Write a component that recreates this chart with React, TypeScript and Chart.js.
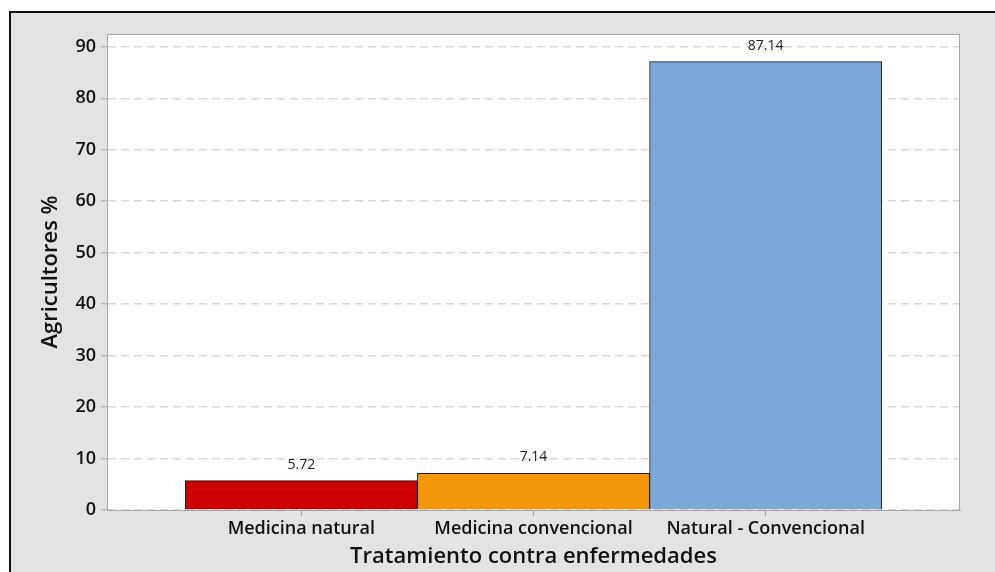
import React, { useEffect, useRef } from "react";
import { Chart, registerables } from "chart.js";

Chart.register(...registerables);

const categories = ["Medicina natural", "Medicina convencional", "Natural - Convencional"];
const values = [5.72, 7.14, 87.14];
const valueLabels = ["5.72", "7.14", "87.14"];
const barColors = ["#cc0000", "#f4960a", "#7ca7d8"];
const yTicks = [0, 10, 20, 30, 40, 50, 60, 70, 80, 90];
const xTitle = "Tratamiento contra enfermedades";
const yTitle = "Agricultores %";

const FONT = "'Open Sans', 'Noto Sans', sans-serif";

const bgPlugin = {
  id: "bgPlugin",
  beforeDraw(chart: any) {
    const { ctx, width, height, chartArea } = chart;
    ctx.save();
    ctx.fillStyle = "#ffffff";
    ctx.fillRect(0, 0, width, height);
    ctx.fillStyle = "#e3e3e3";
    ctx.fillRect(10, 12, width - 10, height - 12);
    ctx.strokeStyle = "#111111";
    ctx.lineWidth = 2;
    ctx.beginPath();
    ctx.moveTo(10, height);
    ctx.lineTo(10, 12);
    ctx.lineTo(width, 12);
    ctx.stroke();
    ctx.fillStyle = "#ffffff";
    ctx.fillRect(chartArea.left, chartArea.top, chartArea.right - chartArea.left, chartArea.bottom - chartArea.top);
    ctx.restore();
  },
  afterDraw(chart: any) {
    const { ctx, chartArea } = chart;
    ctx.save();
    ctx.strokeStyle = "#a6a6a6";
    ctx.lineWidth = 1;
    ctx.strokeRect(chartArea.left + 0.5, chartArea.top + 0.5, chartArea.right - chartArea.left - 1, chartArea.bottom - chartArea.top);
    ctx.restore();
  },
};

const valueLabelPlugin = {
  id: "valueLabelPlugin",
  afterDatasetsDraw(chart: any) {
    const { ctx } = chart;
    const meta = chart.getDatasetMeta(0);
    ctx.save();
    ctx.font = `14px ${FONT}`;
    ctx.fillStyle = "#222222";
    ctx.textAlign = "center";
    ctx.textBaseline = "middle";
    meta.data.forEach((el: any, i: number) => {
      ctx.fillText(valueLabels[i], el.x, el.y - 16);
    });
    ctx.restore();
  },
};

export default function App() {
  const ref = useRef<HTMLCanvasElement>(null);
  useEffect(() => {
    if (!ref.current) return;
    const chart = new Chart(ref.current, {
      type: "bar",
      data: {
        datasets: [
          {
            data: values.map((v, i) => ({ x: i + 1, y: v })),
            backgroundColor: barColors,
            borderColor: "#1a1a1a",
            borderWidth: 1,
            barPercentage: 1,
            categoryPercentage: 1,
          },
        ],
      },
      options: {
        responsive: false,
        animation: false,
        devicePixelRatio: 1,
        layout: { padding: { left: 0, top: 34, right: 35, bottom: 0 } },
        plugins: { legend: { display: false }, tooltip: { enabled: false } },
        scales: {
          x: {
            type: "linear",
            min: 0.163,
            max: 3.837,
            offset: false,
            afterBuildTicks: (scale: any) => {
              scale.ticks = categories.map((_, i) => ({ value: i + 1 }));
            },
            afterFit: (scale: any) => {
              scale.height = 62;
            },
            ticks: {
              autoSkip: false,
              maxRotation: 0,
              padding: 2,
              color: "#111111",
              font: { family: FONT, size: 18, weight: "600" },
              callback: (v: any) => categories[Math.round(v) - 1] ?? "",
            },
            grid: { drawOnChartArea: false, drawTicks: true, tickLength: 6, tickColor: "#a6a6a6", offset: false },
            border: { color: "#a6a6a6", width: 1 },
            title: {
              display: true,
              text: xTitle,
              color: "#111111",
              font: { family: FONT, size: 22, weight: "600" },
              padding: { top: 0, bottom: 2 },
            },
          },
          y: {
            min: 0,
            max: 92.5,
            afterBuildTicks: (scale: any) => {
              scale.ticks = yTicks.map((v) => ({ value: v }));
            },
            afterFit: (scale: any) => {
              scale.width = 107;
            },
            ticks: {
              padding: 5,
              color: "#111111",
              font: { family: FONT, size: 18, weight: "600" },
            },
            grid: {
              color: "#d9d9d9",
              lineWidth: 1.5,
              drawTicks: true,
              tickLength: 6,
              tickColor: "#a6a6a6",
              tickWidth: 1,
            } as any,
            border: { color: "#a6a6a6", width: 1, dash: [8, 5] } as any,
            title: {
              display: true,
              text: yTitle,
              color: "#111111",
              font: { family: FONT, size: 22, weight: "600" },
              padding: { top: 38, bottom: 0 },
            },
          },
        },
      } as any,
      plugins: [bgPlugin, valueLabelPlugin],
    });
    return () => chart.destroy();
  }, []);
  return (
    <div style={{ position: "fixed", left: 0, top: 0, width: 995, height: 572, background: "#fff" }}>
      <canvas ref={ref} width={995} height={572} style={{ display: "block", width: 995, height: 572 }} />
    </div>
  );
}
